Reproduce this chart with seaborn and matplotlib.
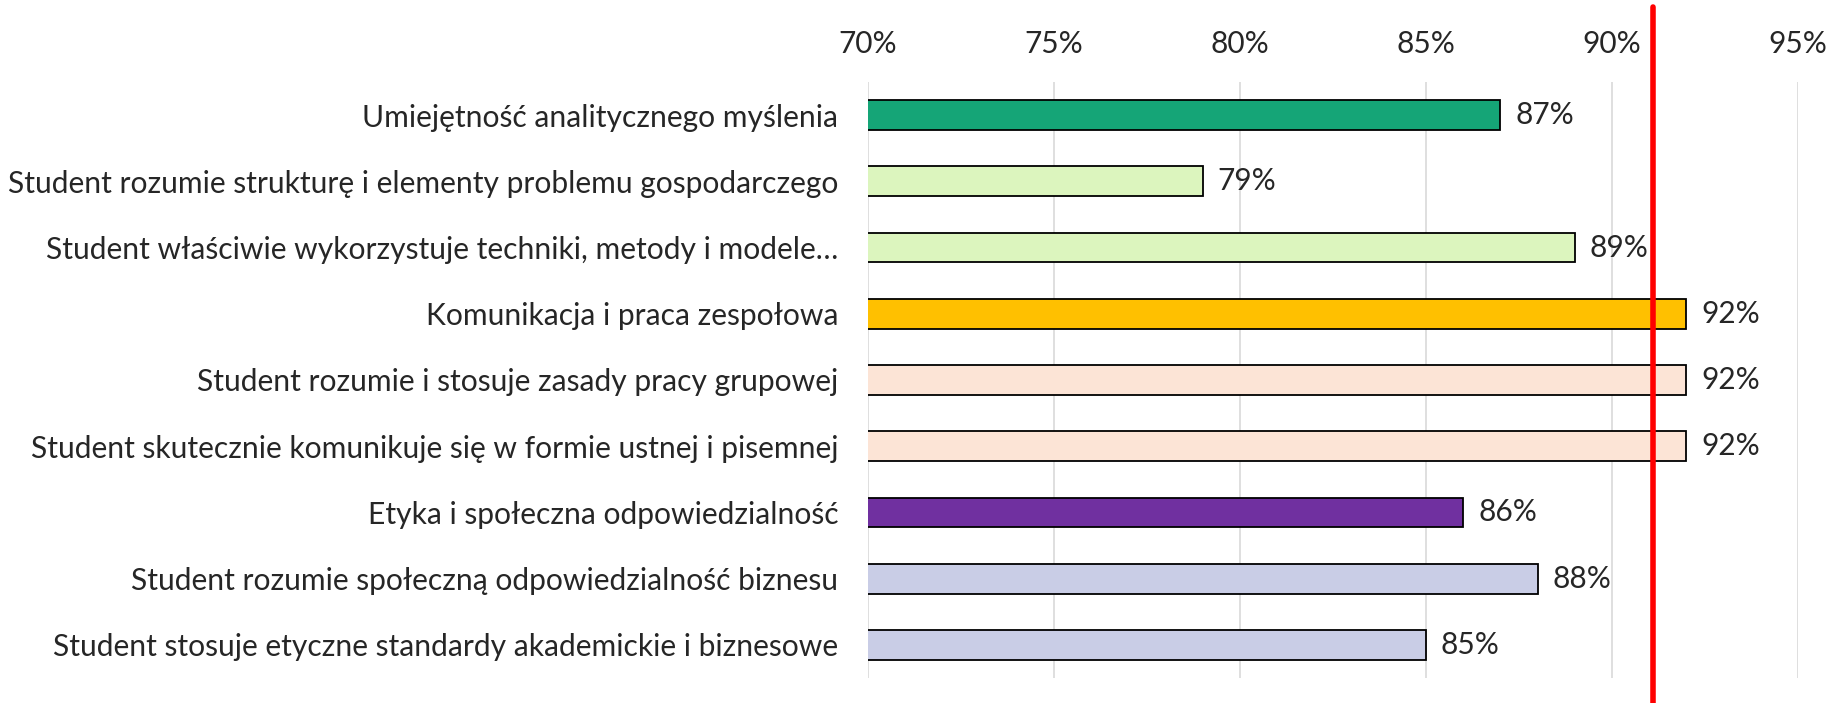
import matplotlib
matplotlib.use("Agg")
import matplotlib.pyplot as plt
import seaborn as sb
from matplotlib.ticker import PercentFormatter

categories = [
    "Umiejętność analitycznego myślenia",
    "Student rozumie strukturę i elementy problemu gospodarczego",
    "Student właściwie wykorzystuje techniki, metody i modele…",
    "Komunikacja i praca zespołowa",
    "Student rozumie i stosuje zasady pracy grupowej",
    "Student skutecznie komunikuje się w formie ustnej i pisemnej",
    "Etyka i społeczna odpowiedzialność",
    "Student rozumie społeczną odpowiedzialność biznesu",
    "Student stosuje etyczne standardy akademickie i biznesowe",
]
values = [0.87, 0.79, 0.89, 0.92, 0.92, 0.92, 0.86, 0.88, 0.85]
target = 0.911
colors = ["#15A577", "#DCF5BE", "#DCF5BE", "#FFC000", "#FCE4D6", "#FCE4D6",
          "#7030A0", "#C9CDE6", "#C9CDE6"]

sb.set_style("white")
plt.rcParams["font.family"] = ["Lato", "DejaVu Sans"]

fig = plt.figure(figsize=(18.39, 7.03), dpi=100)
ax = fig.add_axes([0.472, 0.0356, 0.9777 - 0.472, 0.8834 - 0.0356])

sb.barplot(x=values, y=categories, hue=categories, palette=colors, legend=False,
           orient="h", width=0.45, saturation=1, edgecolor="black", linewidth=1.3,
           ax=ax, zorder=2)

ax.set_xlim(0.70, 0.95)
ax.set_ylim(8.5, -0.5)
ax.set_xticks([0.70, 0.75, 0.80, 0.85, 0.90, 0.95])
ax.xaxis.set_major_formatter(PercentFormatter(1.0, decimals=0))
ax.xaxis.tick_top()
ax.tick_params(axis="x", length=0, pad=17, labelsize=21.5)
ax.tick_params(axis="y", length=0, pad=21.5, labelsize=21.6)
ax.grid(axis="x", color="#D9D9D9", linewidth=1.2, zorder=0)
ax.set_axisbelow(True)
for s in ax.spines.values():
    s.set_visible(False)
ax.set(xlabel="", ylabel="")

for i, v in enumerate(values):
    ax.text(v + 0.004, i, f"{v*100:.0f}%", va="center", ha="left", fontsize=21.5)

ax.axvline(target, ymin=-0.05, ymax=1.125, color="#FF0000", linewidth=4,
           clip_on=False, zorder=3)

fig.savefig("out.png", dpi=100)
